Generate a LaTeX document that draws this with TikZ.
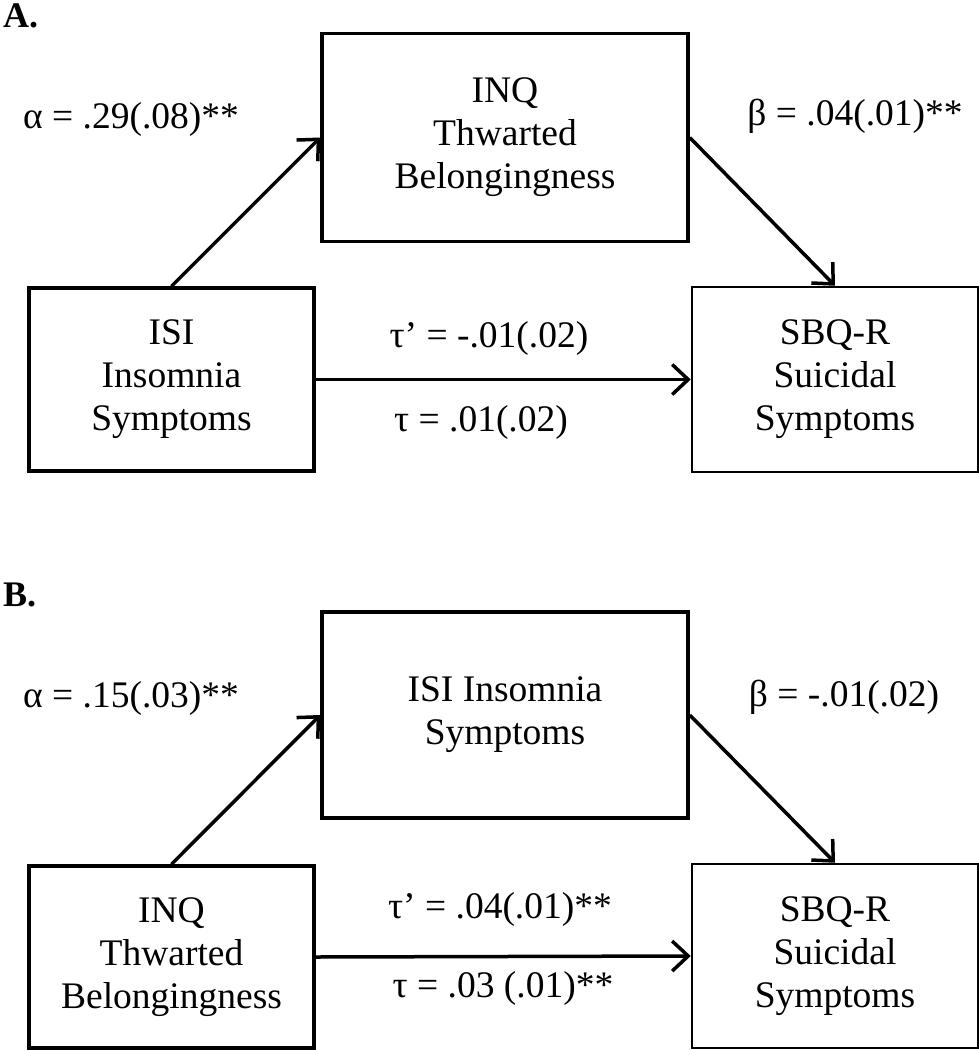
\documentclass[tikz,border=0pt]{standalone}
\usepackage{fontspec}
\setmainfont{Liberation Serif}
\usetikzlibrary{arrows.meta, positioning}

\begin{document}
\begin{tikzpicture}[
x=1pt, y=-1pt,
font=\fontsize{37.5}{43}\selectfont,
box/.style={draw,
rectangle,
line width=3.5pt,
minimum width=285pt,
minimum height=183pt,
inner sep=0pt,
align=center},
midbox/.style={box, minimum width=366pt, minimum height=208pt},
outbox/.style={box, line width=2.5pt, minimum width=286pt, minimum height=185pt},
arrow/.style={-{Straight Barb[length=16pt, width=30pt]}, line width=3.5pt},
panel/.style={font=\fontsize{36}{42}\selectfont\bfseries, inner sep=0pt, anchor=north west}
]

\useasboundingbox (0,0) rectangle (979,1050);

% panel A
\node[panel] (labA) at (3,4) {A.};
\node[midbox] (medA) at (505,137.5) {INQ\\Thwarted\\Belongingness};
\node[box] (predA) at (171.5,379.5) {ISI\\Insomnia\\Symptoms};
\node[outbox] (outA) at (835,379.5) {SBQ-R\\Suicidal\\Symptoms};

\node (alphaA) at (131,119) {α = .29(.08)**};
\node (betaA) at (855,116) {β = .04(.01)**};
\node (tauprA) at (489,338) {τ’ = -.01(.02)};
\node (tauA) at (481,422) {τ = .01(.02)};

\draw[arrow] (predA.north) -- (medA.west);
\draw[arrow] (medA.east) -- (outA.north);
\draw[arrow] (predA.east) -- (outA.west);

% panel B
\node[panel] (labB) at (3,583) {B.};
\node[midbox, minimum height=206pt] (medB) at (505,715) {ISI Insomnia\\Symptoms};
\node[box, minimum height=182pt] (predB) at (171.5,957) {INQ\\Thwarted\\Belongingness};
\node[outbox, minimum height=184pt] (outB) at (835,956) {SBQ-R\\Suicidal\\Symptoms};

\node (alphaB) at (131,698) {α = .15(.03)**};
\node (betaB) at (844,697) {β = -.01(.02)};
\node (tauprB) at (500,909) {τ’ = .04(.01)**};
\node (tauB) at (503,988) {τ = .03 (.01)**};

\draw[arrow] (predB.north) -- (medB.west);
\draw[arrow] (medB.east) -- (outB.north);
\draw[arrow] (predB.east) -- (outB.west);

\end{tikzpicture}
\end{document}
